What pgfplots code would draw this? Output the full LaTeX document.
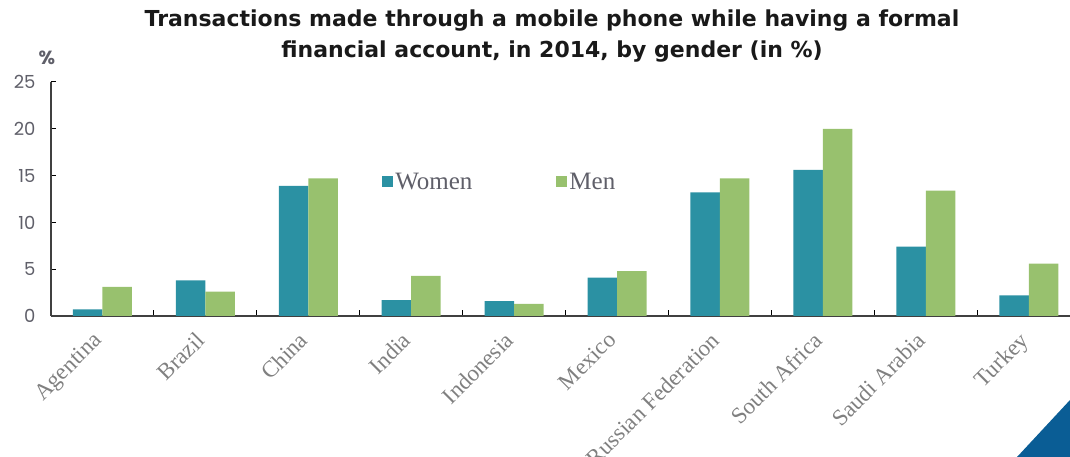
\documentclass[border=0pt]{standalone}
\usepackage{fontspec}
\setmainfont{Liberation Serif}
\newfontfamily\titlefont{DejaVu Sans}
\newfontfamily\numfont{Poppins}
\usepackage{pgfplots}
\usepackage{pgfplotstable}
\pgfplotsset{compat=1.18}
\definecolor{women}{RGB}{43,145,163}
\definecolor{men}{RGB}{152,193,110}
\definecolor{lab}{RGB}{95,95,105}
\definecolor{corner}{RGB}{10,93,149}
\pgfplotstableread{
x women men
0 0.7 3.1
1 3.8 2.6
2 13.9 14.7
3 1.7 4.3
4 1.6 1.3
5 4.1 4.8
6 13.2 14.7
7 15.6 20.0
8 7.4 13.4
9 2.2 5.6
}\datatable
\begin{document}
\begin{tikzpicture}
\path[use as bounding box] (-51pt,-141pt) rectangle (1019pt,316pt);
\begin{axis}[
  at={(0pt,0pt)}, anchor=south west,
  scale only axis, width=1019pt, height=234pt,
  xmin=-0.5, xmax=9.4, ymin=0, ymax=25,
  ybar=0pt, bar width=29.5pt,
  axis lines*=left,
  axis line style={draw=black!75, line width=1.3pt},
  tick align=inside,
  xtick={0,...,9},
  xticklabels={Agentina, Brazil, China, India, Indonesia, Mexico, Russian Federation, South Africa, Saudi Arabia, Turkey},
  xtick style={draw=none},
  minor xtick={0.5,1.5,...,8.5},
  minor x tick style={draw=black, line width=1pt},
  minor tick length=6pt,
  major tick length=5pt,
  ytick={0,5,...,25},
  ytick style={draw=black, line width=1pt},
  /pgf/number format/assume math mode=true,
  yticklabel style={font=\numfont\fontsize{18}{18}\selectfont, text=lab, xshift=-12pt},
  xticklabel style={font=\fontsize{23}{23}\selectfont, text=black!50, xshift=-10.5pt, yshift=-14.5pt, rotate=45, anchor=north east, inner sep=0pt},
  legend style={at={(0.322,0.573)}, anchor=west, draw=none, fill=none,
    font=\fontsize{25}{27}\selectfont, text=lab,
    /tikz/every even column/.append style={column sep=82pt}},
  legend columns=2,
  legend image code/.code={\fill (0pt,-5.5pt) rectangle (11pt,5.5pt);},
]
\addplot[fill=women, draw=none] table[x=x,y=women]{\datatable};
\addplot[fill=men, draw=none] table[x=x,y=men]{\datatable};
\legend{Women, Men}
\end{axis}
\fill[corner] (966pt,-141pt) -- (1019pt,-84pt) -- (1019pt,-141pt) -- cycle;
\node[text=black!90, align=center, font=\titlefont\bfseries\fontsize{22}{31}\selectfont] at (501pt,280pt)
  {Transactions made through a mobile phone while having a formal\\financial account, in 2014, by gender (in \%)};
\node[font=\numfont\bfseries\fontsize{19}{19}\selectfont, text=lab] at (-4pt,258pt) {\%};
\end{tikzpicture}
\end{document}
